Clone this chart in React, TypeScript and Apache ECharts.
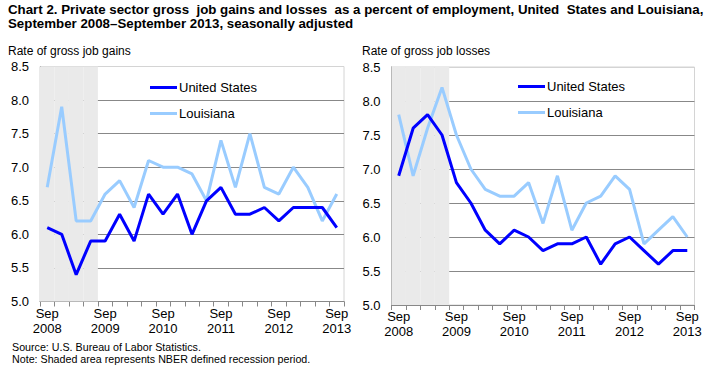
import React, { useEffect, useRef } from "react";
import * as echarts from "echarts";

const quarters: string[] = [
  "Sep 2008", "Dec 2008", "Mar 2009", "Jun 2009",
  "Sep 2009", "Dec 2009", "Mar 2010", "Jun 2010",
  "Sep 2010", "Dec 2010", "Mar 2011", "Jun 2011",
  "Sep 2011", "Dec 2011", "Mar 2012", "Jun 2012",
  "Sep 2012", "Dec 2012", "Mar 2013", "Jun 2013",
  "Sep 2013",
];

const usGains: number[] = [6.1, 6.0, 5.4, 5.9, 5.9, 6.3, 5.9, 6.6, 6.3, 6.6, 6.0, 6.5, 6.7, 6.3, 6.3, 6.4, 6.2, 6.4, 6.4, 6.4, 6.1];
const laGains: number[] = [6.7, 7.9, 6.2, 6.2, 6.6, 6.8, 6.4, 7.1, 7.0, 7.0, 6.9, 6.5, 7.4, 6.7, 7.5, 6.7, 6.6, 7.0, 6.7, 6.2, 6.6];
const usLosses: number[] = [6.9, 7.6, 7.8, 7.5, 6.8, 6.5, 6.1, 5.9, 6.1, 6.0, 5.8, 5.9, 5.9, 6.0, 5.6, 5.9, 6.0, 5.8, 5.6, 5.8, 5.8];
const laLosses: number[] = [7.8, 6.9, 7.6, 8.2, 7.5, 7.0, 6.7, 6.6, 6.6, 6.8, 6.2, 6.9, 6.1, 6.5, 6.6, 6.9, 6.7, 5.9, 6.1, 6.3, 6.0];
const recessionQuarters: string[] = ["Sep 2008", "Dec 2008", "Mar 2009", "Jun 2009"];

const yMin = 5;
const yMax = 8.5;
const yStep = 0.5;

const US_COLOR = "#0000FF";
const LA_COLOR = "#99CCFF";
const SHADE = "#EAEAEA";

export default function App() {
  const ref = useRef<HTMLDivElement>(null);

  useEffect(() => {
    if (!ref.current) return;
    const chart = echarts.init(ref.current, null, { renderer: "svg" });

    const shadeData = quarters.map((q) => (recessionQuarters.includes(q) ? yMax : "-"));

    const gridLineColors = ["#888", "#888", "#888", "#888", "#888", "#888", "#888", "#d4d4d4"];

    const xAxisBase = (gridIndex: number) => ({
      type: "category",
      gridIndex,
      data: quarters,
      boundaryGap: true,
      axisLine: { lineStyle: { color: "#888", width: 1 } },
      axisTick: { show: true, interval: 0, length: 5, lineStyle: { color: "#888" } },
      axisLabel: {
        interval: (i: number) => i % 4 === 0,
        formatter: (v: string) => v.replace(" ", "\n"),
        color: "#000",
        fontFamily: "Arial, Liberation Sans, sans-serif",
        fontSize: 13,
        lineHeight: 15,
        margin: 4,
      },
    });

    const yAxisBase = (gridIndex: number) => ({
      type: "value",
      gridIndex,
      min: yMin,
      max: yMax,
      interval: yStep,
      axisLine: { show: true, lineStyle: { color: "#888" } },
      axisTick: { show: false },
      splitLine: { show: true, lineStyle: { color: gridLineColors, width: 1 } },
      axisLabel: {
        formatter: (v: number) => v.toFixed(1),
        color: "#000",
        fontFamily: "Arial, Liberation Sans, sans-serif",
        fontSize: 13,
        margin: 11,
      },
    });

    const lineSeries = (name: string, data: number[], color: string, idx: number) => ({
      type: "line",
      name,
      data,
      xAxisIndex: idx,
      yAxisIndex: idx,
      symbol: "none",
      lineStyle: { color, width: 3 },
      itemStyle: { color },
      z: name === "United States" ? 4 : 3,
    });

    const shadeSeries = (idx: number) => ({
      type: "bar",
      name: "Recession",
      data: shadeData,
      xAxisIndex: idx,
      yAxisIndex: idx,
      barCategoryGap: "0%",
      barGap: "0%",
      itemStyle: { color: SHADE },
      silent: true,
      z: 1,
    });

    const legendBase = (left: number, top: number) => ({
      left,
      top,
      padding: 0,
      orient: "vertical",
      data: ["United States", "Louisiana"],
      icon: "rect",
      itemWidth: 27,
      itemHeight: 3,
      itemGap: 13,
      selectedMode: false,
      textStyle: {
        color: "#000",
        fontFamily: "Arial, Liberation Sans, sans-serif",
        fontSize: 13,
        padding: [0, 0, 0, -3],
      },
    });

    const txt = (text: string, x: number, y: number, font: string) => ({
      type: "text",
      x,
      y,
      style: { text, font, fill: "#000", verticalAlign: "middle", align: "left" },
    });

    const titleFont = "bold 13.3px 'Liberation Sans', Arial, sans-serif";
    const subFont = "12px 'Liberation Sans', Arial, sans-serif";
    const noteFont = "10.7px 'Liberation Sans', Arial, sans-serif";

    chart.setOption({
      animation: false,
      backgroundColor: "#fff",
      grid: [
        { left: 40, top: 66.5, width: 304, height: 235, show: true, borderColor: "#d4d4d4", borderWidth: 1, backgroundColor: "transparent" },
        { left: 391.5, top: 67, width: 303, height: 238, show: true, borderColor: "#d4d4d4", borderWidth: 1, backgroundColor: "transparent" },
      ],
      xAxis: [xAxisBase(0), xAxisBase(1)],
      yAxis: [yAxisBase(0), yAxisBase(1)],
      legend: [legendBase(150, 81), legendBase(518, 80)],
      series: [
        shadeSeries(0),
        lineSeries("Louisiana", laGains, LA_COLOR, 0),
        lineSeries("United States", usGains, US_COLOR, 0),
        shadeSeries(1),
        lineSeries("Louisiana", laLosses, LA_COLOR, 1),
        lineSeries("United States", usLosses, US_COLOR, 1),
      ],
      graphic: [
        txt("Chart 2. Private sector gross  job gains and losses  as a percent of employment, United  States and Louisiana,", 8, 9, titleFont),
        txt("September 2008\u2013September 2013, seasonally adjusted", 8, 23, titleFont),
        txt("Rate of gross job gains", 8, 51, subFont),
        txt("Rate of gross job losses", 362, 51, subFont),
        txt("Source: U.S. Bureau of Labor Statistics.", 12, 347, noteFont),
        txt("Note: Shaded area represents NBER defined recession period.", 12, 359, noteFont),
      ],
    });

    return () => chart.dispose();
  }, []);

  return (
    <div style={{ position: "absolute", left: 0, top: 0 }}>
      <div ref={ref} style={{ width: 711, height: 377 }} />
    </div>
  );
}
